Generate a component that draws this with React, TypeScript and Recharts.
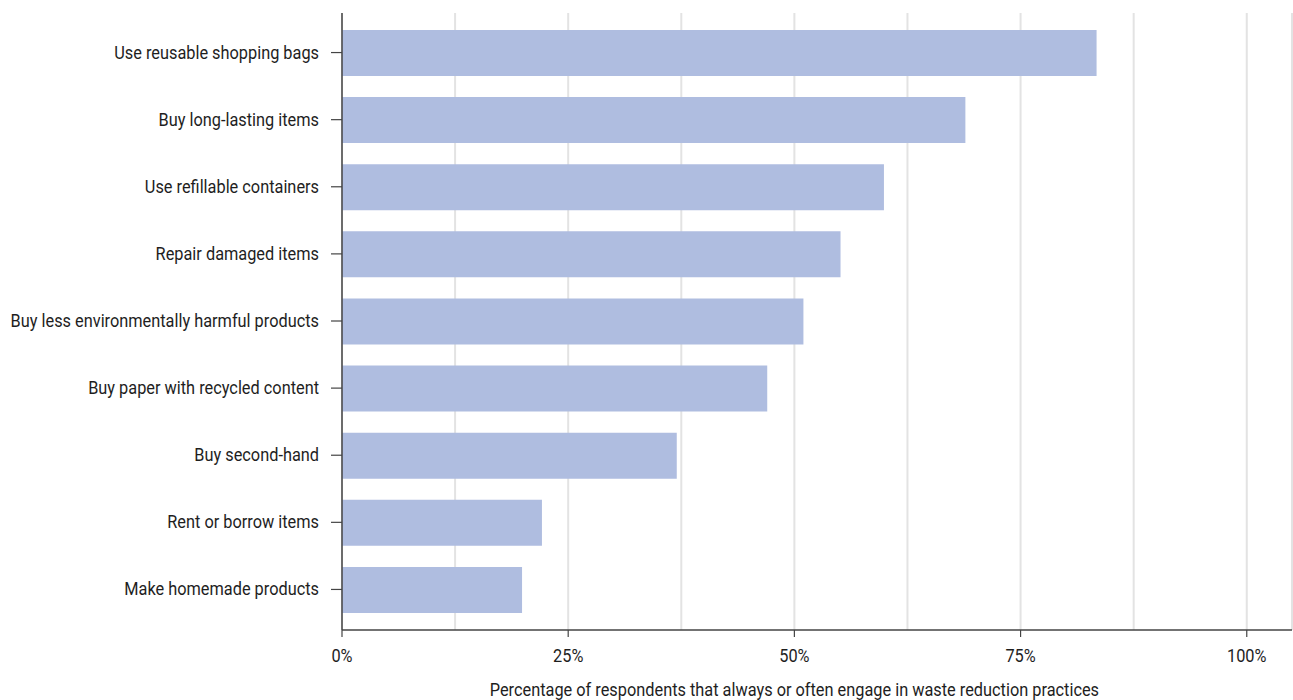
import React from 'react';
import { BarChart, Bar, XAxis, YAxis, CartesianGrid } from 'recharts';

const practices = [
  'Use reusable shopping bags',
  'Buy long-lasting items',
  'Use refillable containers',
  'Repair damaged items',
  'Buy less environmentally harmful products',
  'Buy paper with recycled content',
  'Buy second-hand',
  'Rent or borrow items',
  'Make homemade products',
];

const shares = [83.4, 68.9, 59.9, 55.1, 51.0, 47.0, 37.0, 22.1, 19.9];

const gridTicks = [0, 12.5, 25, 37.5, 50, 62.5, 75, 87.5, 100];
const labelledTicks = [0, 25, 50, 75, 100];
const domainMax = 105;

const axisTitle = 'Percentage of respondents that always or often engage in waste reduction practices';

const FONT = 'Roboto, sans-serif';
const INK = '#1e1e1e';
// narrow the type so Roboto reads like a condensed face
const SQUEEZE = 0.86;

const data = practices.map((name, i) => ({ name, value: shares[i] }));

const NarrowText = ({ x, y, anchor, children }: any) => (
  <g transform={`translate(${x},${y}) scale(${SQUEEZE},1)`}>
    <text x={0} y={0} textAnchor={anchor} fill={INK} fontSize={19} fontFamily={FONT}>
      {children}
    </text>
  </g>
);

const PercentTick = (props: any) => {
  const { x, y, payload } = props;
  if (!labelledTicks.includes(payload.value)) return null;
  return (
    <g>
      <line x1={x} y1={y - 8} x2={x} y2={y - 1} stroke="#444" strokeWidth={1.2} />
      <NarrowText x={x} y={y + 24} anchor="middle">{`${payload.value}%`}</NarrowText>
    </g>
  );
};

const PracticeTick = (props: any) => {
  const { x, y, payload } = props;
  return (
    <g>
      <line x1={x - 3} y1={y} x2={x + 8} y2={y} stroke="#444" strokeWidth={1.2} />
      <NarrowText x={x - 15} y={y + 6} anchor="end">{payload.value}</NarrowText>
    </g>
  );
};

// title sits centred under the 50% mark, not under the whole axis
const TitleLabel = (props: any) => {
  const { viewBox } = props;
  const mid = viewBox.x + (viewBox.width * 50) / domainMax;
  return (
    <NarrowText x={mid} y={viewBox.y + 66} anchor="middle">
      {axisTitle}
    </NarrowText>
  );
};

export default function App() {
  return (
    <div style={{ position: 'absolute', left: 0, top: 0, background: '#fff' }}>
      <BarChart
        width={1293}
        height={700}
        data={data}
        layout="vertical"
        margin={{ top: 13, right: 1, bottom: 0, left: 0 }}
      >
        <CartesianGrid horizontal={false} vertical stroke="#e3e3e3" strokeWidth={2} />
        <XAxis
          type="number"
          domain={[0, domainMax]}
          ticks={gridTicks}
          tick={<PercentTick />}
          tickLine={false}
          axisLine={{ stroke: '#444', strokeWidth: 1.5 }}
          height={70}
          interval={0}
          label={<TitleLabel />}
        />
        <YAxis
          type="category"
          dataKey="name"
          width={342}
          tick={<PracticeTick />}
          tickLine={false}
          axisLine={{ stroke: '#444', strokeWidth: 1.5 }}
          padding={{ top: 6, bottom: 7 }}
          interval={0}
        />
        <Bar dataKey="value" fill="#afbde0" barSize={46} isAnimationActive={false} />
      </BarChart>
    </div>
  );
}
